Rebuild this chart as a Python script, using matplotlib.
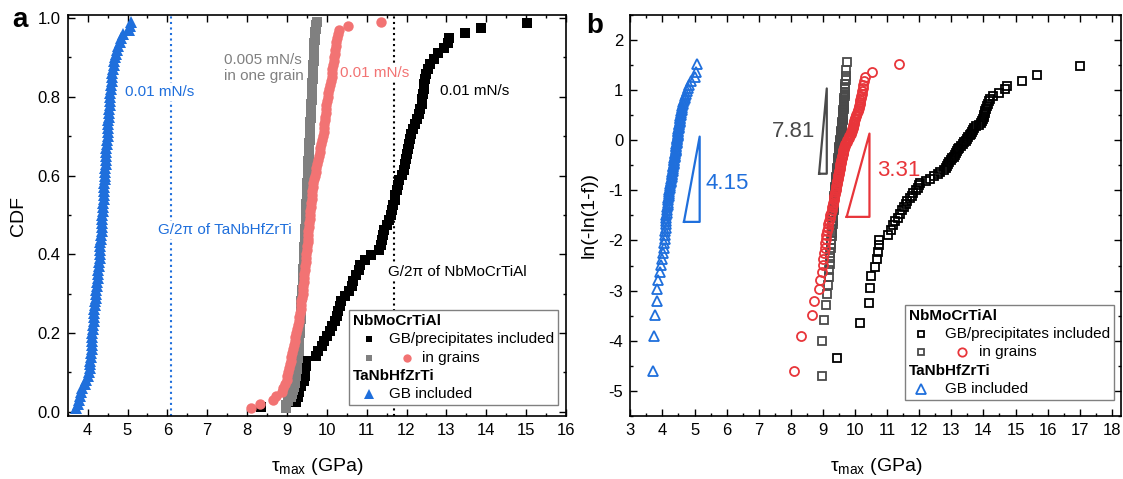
import numpy as np
import matplotlib
matplotlib.use("Agg")
import matplotlib.pyplot as plt
from matplotlib.lines import Line2D
from matplotlib.ticker import MultipleLocator
from matplotlib.offsetbox import AnchoredOffsetbox, VPacker, HPacker, TextArea, DrawingArea

plt.rcParams['font.family'] = ['Liberation Sans', 'DejaVu Sans']
plt.rcParams['mathtext.fontset'] = 'custom'
plt.rcParams['mathtext.rm'] = 'Liberation Sans'
plt.rcParams['mathtext.it'] = 'Liberation Sans:italic'
plt.rcParams['axes.unicode_minus'] = False

# tau_max values (GPa), sorted
tau_blue = [3.72, 3.75, 3.78, 3.82, 3.84, 3.87, 3.93, 3.97, 4.00, 4.03,
            4.05, 4.06, 4.07, 4.08, 4.09, 4.10, 4.10, 4.11, 4.11, 4.12,
            4.13, 4.14, 4.15, 4.16, 4.16, 4.17, 4.18, 4.19, 4.20, 4.21,
            4.22, 4.23, 4.24, 4.25, 4.26, 4.27, 4.28, 4.29, 4.30, 4.30,
            4.31, 4.32, 4.32, 4.33, 4.34, 4.35, 4.35, 4.36, 4.37, 4.37,
            4.38, 4.39, 4.39, 4.40, 4.41, 4.41, 4.42, 4.42, 4.43, 4.43,
            4.44, 4.44, 4.45, 4.45, 4.46, 4.47, 4.47, 4.48, 4.49, 4.50,
            4.50, 4.51, 4.52, 4.52, 4.53, 4.54, 4.54, 4.55, 4.56, 4.56,
            4.57, 4.58, 4.59, 4.60, 4.61, 4.62, 4.64, 4.65, 4.67, 4.69,
            4.71, 4.74, 4.77, 4.80, 4.84, 4.88, 5.03, 5.06, 5.08]

tau_grey = [8.98, 8.98, 9.03, 9.10, 9.12, 9.15, 9.18, 9.20,
            9.21, 9.22, 9.23, 9.24, 9.25, 9.26, 9.27, 9.28,
            9.29, 9.29, 9.30, 9.31, 9.31, 9.32,
            9.32, 9.33, 9.33, 9.34, 9.34, 9.35, 9.35, 9.36, 9.36, 9.37, 9.38,
            9.38, 9.39, 9.39, 9.40, 9.40, 9.41, 9.41, 9.42, 9.42, 9.43, 9.43,
            9.44, 9.44, 9.45, 9.45, 9.46, 9.46, 9.46, 9.47, 9.47, 9.48, 9.48,
            9.49, 9.49, 9.49, 9.50, 9.50, 9.50, 9.51, 9.51, 9.51, 9.52, 9.52,
            9.53, 9.53, 9.54, 9.54, 9.55, 9.55, 9.56, 9.56, 9.56, 9.57, 9.57,
            9.58, 9.58, 9.59, 9.59, 9.60, 9.60, 9.60, 9.61, 9.61, 9.62, 9.62,
            9.63, 9.63, 9.64, 9.64, 9.65, 9.65, 9.66, 9.66, 9.66, 9.67, 9.67,
            9.68, 9.68, 9.69, 9.69, 9.70, 9.70, 9.71, 9.72, 9.73, 9.75]

tau_red = [8.10, 8.32, 8.65, 8.72, 8.88, 8.91, 8.96, 8.99, 9.01, 9.03,
           9.05, 9.07, 9.09, 9.11, 9.13, 9.15, 9.17, 9.19, 9.21, 9.23,
           9.25, 9.27, 9.29, 9.31, 9.32, 9.34, 9.35, 9.36, 9.38, 9.39,
           9.40, 9.41, 9.42, 9.43, 9.44, 9.45, 9.46, 9.47, 9.48, 9.49,
           9.50, 9.51, 9.52, 9.52, 9.53, 9.54, 9.55, 9.56, 9.57, 9.58,
           9.59, 9.60, 9.61, 9.62, 9.63, 9.64, 9.65, 9.66, 9.68, 9.70,
           9.72, 9.74, 9.76, 9.78, 9.80, 9.82, 9.84, 9.86, 9.88, 9.90,
           9.92, 9.93, 9.94, 9.95, 9.96, 9.97, 9.98, 9.99, 10.00, 10.02,
           10.04, 10.06, 10.08, 10.10, 10.12, 10.13, 10.14, 10.15, 10.17, 10.19,
           10.20, 10.21, 10.22, 10.24, 10.26, 10.29, 10.31, 10.54, 11.37]

# GB/precipitates included, as shown in the CDF panel
tau_black_cdf = [8.35, 9.22, 9.27, 9.30, 9.36, 9.42, 9.45, 9.46, 9.47, 9.49,
                 9.72, 9.78, 9.88, 9.93, 10.00, 10.08, 10.13, 10.20, 10.26, 10.29,
                 10.32, 10.36, 10.45, 10.55, 10.62, 10.66, 10.72, 10.80, 10.84, 10.95,
                 11.10, 11.30, 11.36, 11.39, 11.41, 11.44, 11.50, 11.56, 11.60, 11.64,
                 11.67, 11.70, 11.72, 11.75, 11.78, 11.80, 11.88, 11.93, 11.96, 11.99,
                 12.01, 12.03, 12.05, 12.08, 12.12, 12.16, 12.20, 12.26, 12.32, 12.35,
                 12.38, 12.40, 12.42, 12.43, 12.45, 12.47, 12.50, 12.53, 12.60, 12.68,
                 12.80, 12.95, 13.03, 13.06, 13.47, 13.88, 15.01]

# GB/precipitates included, as shown in the Weibull panel
tau_black_wb = [9.44, 10.15, 10.45, 10.46, 10.50, 10.61, 10.68, 10.72, 10.74, 10.75,
                11.04, 11.11, 11.18, 11.25, 11.35, 11.40, 11.45, 11.52, 11.58, 11.63,
                11.70, 11.76, 11.82, 11.90, 11.96, 12.00, 12.03, 12.20, 12.33, 12.45,
                12.58, 12.66, 12.76, 12.82, 12.86, 12.90, 12.94, 12.98, 13.02, 13.07,
                13.11, 13.15, 13.19, 13.22, 13.25, 13.29, 13.35, 13.41, 13.47, 13.50,
                13.53, 13.57, 13.60, 13.63, 13.67, 13.70, 13.78, 13.86, 13.93, 13.97,
                14.00, 14.02, 14.03, 14.04, 14.05, 14.08, 14.11, 14.14, 14.16, 14.22,
                14.30, 14.50, 14.66, 14.73, 15.19, 15.68, 17.00]

# G/2pi reference lines
g2pi_tanbhfzrti = 6.10
g2pi_nbmocrtial = 11.68

# Weibull slope wedges (x, y vertices) and moduli
wedge_blue = ([4.67, 5.16, 5.16, 4.67], [-1.63, -1.63, 0.07, -1.63])
wedge_grey = ([8.88, 9.12, 9.12, 8.88], [-0.67, -0.67, 1.03, -0.67])
wedge_red = ([9.74, 10.45, 10.45, 9.74], [-1.53, -1.53, 0.13, -1.53])
modulus_labels = ["4.15", "7.81", "3.31"]

BLUE = "#1f6fdc"
GREY_A = "#808080"
RED_A = "#f27373"
GREY_B = "#4a4a4a"
RED_B = "#e8353a"


def cdf(values):
    n = len(values)
    return np.arange(1, n + 1) / (n + 1)


def weibull(values):
    f = cdf(values)
    return np.log(-np.log(1 - f))


def style_axes(ax, xmaj, ymaj):
    ax.xaxis.set_major_locator(MultipleLocator(xmaj))
    ax.xaxis.set_minor_locator(MultipleLocator(xmaj / 2))
    ax.yaxis.set_major_locator(MultipleLocator(ymaj))
    ax.yaxis.set_minor_locator(MultipleLocator(ymaj / 2))
    ax.tick_params(which="both", direction="in", top=True, right=True,
                   width=1.0, labelsize=12, pad=5)
    ax.tick_params(which="major", length=5)
    ax.tick_params(which="minor", length=2.5)
    for s in ax.spines.values():
        s.set_linewidth(1.2)


def marker_area(width, markers):
    da = DrawingArea(width, 9, 0, 0)
    for x, m, c, filled, ms in markers:
        da.add_artist(Line2D([x], [4.5], marker=m, ms=ms, ls="none",
                             mfc=c if filled else "none", mec=c,
                             mew=0 if filled else 1.3))
    return da


def add_key(ax, anchor, m0, lab, m1, lab2, hollow, colors):
    black, grey, red, blue = colors
    filled = not hollow
    sq = 5.0 if filled else 5.0
    tx = dict(fontsize=11)
    bold = dict(fontsize=11, fontweight="bold")
    rows = [
        TextArea("NbMoCrTiAl", textprops=bold),
        HPacker(children=[marker_area(lab, [(m0, "s", black, filled, sq)]),
                          TextArea("GB/precipitates included", textprops=tx)],
                sep=0, align="center"),
        HPacker(children=[marker_area(lab2, [(m0, "s", grey, filled, sq),
                                             (m1, "o", red, filled, 6.0)]),
                          TextArea("in grains", textprops=tx)],
                sep=0, align="center"),
        TextArea("TaNbHfZrTi", textprops=bold),
        HPacker(children=[marker_area(lab, [(m0, "^", blue, filled, 6.5)]),
                          TextArea("GB included", textprops=tx)],
                sep=0, align="center"),
    ]
    pack = VPacker(children=rows, sep=3.0, align="left", pad=0)
    box = AnchoredOffsetbox(loc="lower right", child=pack, pad=0.3, borderpad=0,
                            frameon=True, bbox_to_anchor=anchor,
                            bbox_transform=ax.transAxes, prop=dict(size=10))
    box.patch.set_edgecolor("#808080")
    box.patch.set_linewidth(1.0)
    box.set_zorder(6)
    ax.add_artist(box)


fig = plt.figure(figsize=(11.23, 4.79), dpi=100)
ax_a = fig.add_axes([0.0603, 0.1315, 0.4437, 0.8372])
ax_b = fig.add_axes([0.5613, 0.1315, 0.4373, 0.8378])

# ---- panel a: CDF ----
style_axes(ax_a, 1, 0.2)
ax_a.set_xlim(3.5, 16)
ax_a.set_ylim(-0.011, 1.008)

ax_a.axvline(g2pi_tanbhfzrti, color=BLUE, ls=":", lw=1.5, zorder=1)
ax_a.axvline(g2pi_nbmocrtial, color="black", ls=":", lw=1.5, zorder=1)

ax_a.plot(tau_black_cdf, cdf(tau_black_cdf), "s", color="black", ms=6.8, mew=0, zorder=4)
ax_a.plot(tau_grey, cdf(tau_grey), "s", color=GREY_A, ms=6.8, mew=0, zorder=4)
ax_a.plot(tau_red, cdf(tau_red), "o", color=RED_A, ms=7.5, mew=0, zorder=4)
ax_a.plot(tau_blue, cdf(tau_blue), "^", color=BLUE, ms=8.5, mew=0, zorder=4)

wbox = dict(facecolor="white", edgecolor="none", pad=1.5)
ax_a.text(4.94, 0.813, "0.01 mN/s", color=BLUE, fontsize=11, va="center", bbox=wbox, zorder=3)
ax_a.text(7.43, 0.874, "0.005 mN/s\nin one grain", color=GREY_A, fontsize=11,
          va="center", bbox=wbox, zorder=3)
ax_a.text(10.33, 0.86, "0.01 mN/s", color=RED_A, fontsize=11, va="center", bbox=wbox, zorder=3)
ax_a.text(12.83, 0.816, "0.01 mN/s", color="black", fontsize=11, va="center", bbox=wbox, zorder=3)
ax_a.text(5.76, 0.462, "G/2π of TaNbHfZrTi", color=BLUE, fontsize=11, va="center",
          bbox=wbox, zorder=3)
ax_a.text(11.54, 0.356, "G/2π of NbMoCrTiAl", color="black", fontsize=11, va="center",
          bbox=wbox, zorder=3)

ax_a.set_xlabel(r"$\mathrm{\tau_{max}}$ (GPa)", fontsize=14, labelpad=13)
ax_a.set_ylabel("CDF", fontsize=14, labelpad=8)
add_key(ax_a, (0.9845, 0.0274), 11.4, 25.8, 39.0, 49.8, False,
        ("black", GREY_A, RED_A, BLUE))

# ---- panel b: Weibull ----
style_axes(ax_b, 1, 1)
ax_b.set_xlim(3, 18.3)
ax_b.set_ylim(-5.5, 2.5)

ax_b.plot(tau_black_wb, weibull(tau_black_wb), "s", mfc="none", mec="black", ms=5.8, mew=1.3, zorder=4)
ax_b.plot(tau_grey, weibull(tau_grey), "s", mfc="none", mec=GREY_B, ms=5.8, mew=1.3, zorder=4)
ax_b.plot(tau_red, weibull(tau_red), "o", mfc="none", mec=RED_B, ms=6.5, mew=1.3, zorder=4)
ax_b.plot(tau_blue, weibull(tau_blue), "^", mfc="none", mec=BLUE, ms=7.5, mew=1.3, zorder=4)

ax_b.plot(*wedge_blue, color=BLUE, lw=1.6)
ax_b.plot(*wedge_grey, color=GREY_B, lw=1.6)
ax_b.plot(*wedge_red, color=RED_B, lw=1.6)
ax_b.text(5.33, -0.87, modulus_labels[0], color=BLUE, fontsize=16, va="center")
ax_b.text(8.75, 0.17, modulus_labels[1], color=GREY_B, fontsize=16, va="center", ha="right")
ax_b.text(10.7, -0.6, modulus_labels[2], color=RED_B, fontsize=16, va="center")

ax_b.set_xlabel(r"$\mathrm{\tau_{max}}$ (GPa)", fontsize=14, labelpad=13)
ax_b.set_ylabel("ln(-ln(1-f))", fontsize=14, labelpad=8)
add_key(ax_b, (0.985, 0.040), 9.0, 25.8, 38.3, 50.5, True,
        ("black", GREY_B, RED_B, BLUE))

fig.text(12.7 / 1123, 1 - 27 / 479, "a", fontsize=20, fontweight="bold", va="baseline")
fig.text(586 / 1123, 1 - 33 / 479, "b", fontsize=20, fontweight="bold", va="baseline")

fig.savefig("out.png", dpi=100)
